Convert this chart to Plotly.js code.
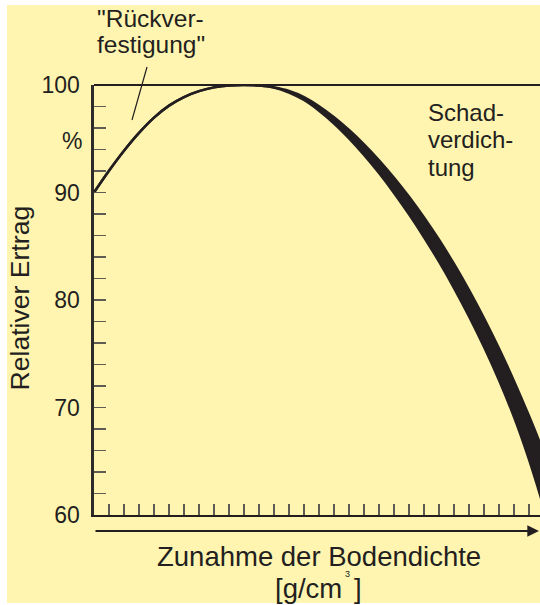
<!DOCTYPE html>
<html>
<head>
<meta charset="utf-8">
<script src="https://cdn.plot.ly/plotly-3.0.1.min.js"></script>
<style>
  html, body { margin: 0; padding: 0; background: #ffffff; width: 540px; height: 605px; overflow: hidden; }
  #chart { position: absolute; left: 0; top: 0; width: 540px; height: 605px; }
</style>
</head>
<body>
<div id="chart"></div>
<script>
// Density steps (unlabelled x units, one per tick)
const density = [0, 1, 2, 3, 4, 5, 6, 7, 8, 9, 10, 11, 12, 13, 14, 15, 16, 17, 18, 19, 20, 21, 22, 23, 24, 25, 26, 27, 28, 29, 30];
// Relative yield, upper edge of the curve band
const yieldUpper = [90.0, 92.02, 93.88, 95.54, 96.96, 98.08, 98.88, 99.43, 99.78, 99.96, 100, 99.95, 99.77,
                    99.45, 98.88, 98.03, 97.00, 95.81, 94.48, 93.00, 91.37, 89.60, 87.68, 85.60, 83.35, 80.92, 78.30, 75.48, 72.45, 69.20, 65.75];
// Relative yield, lower edge of the curve band (Schadverdichtung spread)
const yieldLower = [90.0, 92.02, 93.88, 95.54, 96.96, 98.08, 98.88, 99.43, 99.78, 99.96, 100, 99.95, 99.77,
                    99.30, 98.60, 97.61, 96.42, 95.04, 93.50, 91.81, 89.96, 87.97, 85.84, 83.56, 81.11, 78.47, 75.62, 72.53, 69.10, 65.15, 60.65];
// Y axis ticks
const yTickVals = [60, 62, 64, 66, 68, 70, 72, 74, 76, 78, 80, 82, 84, 86, 88, 90, 92, 94, 96, 98, 100];
const yTickText = yTickVals.map(v => (v % 10 === 0 ? String(v) : ''));

const INK = '#231F20';
const BG = '#FFF5B1';
const FONT = 'Liberation Sans, Arial, Helvetica, sans-serif';

// pixel (page) -> paper helpers for text placement
const W = 540, H = 605;
const PL = 94, PR = 540, PT = 85, PB = 515;
const px = x => (x - PL) / (PR - PL);
const py = y => (PB - y) / (PB - PT);

const traces = [
  { x: density, y: yieldUpper, mode: 'lines', line: { color: INK, width: 2.5, shape: 'spline', smoothing: 1 },
    hoverinfo: 'skip', showlegend: false },
  { x: density, y: yieldLower, mode: 'lines', fill: 'tonexty', fillcolor: INK,
    line: { color: INK, width: 2.5, shape: 'spline', smoothing: 1 }, hoverinfo: 'skip', showlegend: false }
];

function txt(text, x, y, size, xanchor, extra) {
  return Object.assign({ text: text, xref: 'paper', yref: 'paper', x: px(x), y: py(y), xanchor: xanchor, yanchor: 'middle',
    showarrow: false, font: { family: FONT, size: size, color: INK } }, extra || {});
}
function whiteStrip(x0, y0, x1, y1) {
  return { type: 'rect', xref: 'paper', yref: 'paper', x0: px(x0), x1: px(x1), y0: py(y0), y1: py(y1),
           fillcolor: '#ffffff', line: { width: 0 }, layer: 'below' };
}

const layout = {
  width: W, height: H,
  margin: { l: PL, r: W - PR, t: PT, b: H - PB, pad: 0 },
  paper_bgcolor: BG, plot_bgcolor: BG,
  showlegend: false,
  xaxis: {
    range: [0, 29.73], showgrid: false, zeroline: false,
    showline: true, linecolor: INK, linewidth: 2,
    ticks: 'inside', ticklen: 11, tickwidth: 1.3, tickcolor: '#5e5b52',
    tick0: 0, dtick: 1, showticklabels: false, fixedrange: true
  },
  yaxis: {
    range: [60, 100], showgrid: false, zeroline: false,
    showline: true, linecolor: '#2e2c2a', linewidth: 2.6,
    ticks: 'inside', ticklen: 12, tickwidth: 1.5, tickcolor: '#5e5b52',
    tickmode: 'array', tickvals: yTickVals, ticktext: yTickText,
    tickfont: { family: FONT, size: 23, color: INK }, ticklabelstandoff: 7, fixedrange: true
  },
  shapes: [
    whiteStrip(0, 0, 7, 605),
    whiteStrip(0, 0, 540, 5),
    whiteStrip(0, 603, 540, 605),
    { type: 'line', xref: 'paper', yref: 'paper', x0: 0, x1: 1, y0: 1, y1: 1, line: { color: INK, width: 2.2 }, layer: 'above' },
    { type: 'line', xref: 'paper', yref: 'paper', x0: px(147), y0: py(67), x1: px(132), y1: py(120), line: { color: INK, width: 1.2 } }
  ],
  annotations: [
    txt('%', 84, 141, 23, 'right'),
    txt('"Rückver-', 95, 18, 24.5, 'left'),
    txt('festigung"', 95, 44, 24.5, 'left'),
    txt('Schad-', 426, 112.6, 24, 'left'),
    txt('verdich-', 426, 139.9, 24, 'left'),
    txt('tung', 426, 167.6, 24, 'left'),
    txt('Zunahme der Bodendichte', 319, 556, 27.5, 'center'),
    txt('[g/cm', 273, 588.5, 27.5, 'left'),
    txt('3', 347, 574, 9, 'center'),
    txt(']', 352, 588.5, 27.5, 'left'),
    txt('Relativer Ertrag', 19.5, 298, 26.6, 'center', { textangle: -90 }),
    { text: '', xref: 'paper', yref: 'paper', x: px(539), y: py(531), ax: -445, ay: 0, axref: 'pixel', ayref: 'pixel',
      showarrow: true, arrowhead: 2, arrowsize: 1.3, arrowwidth: 1.8, arrowcolor: INK, standoff: 0 }
  ]
};

Plotly.newPlot('chart', traces, layout, { displayModeBar: false, staticPlot: true });
</script>
</body>
</html>
